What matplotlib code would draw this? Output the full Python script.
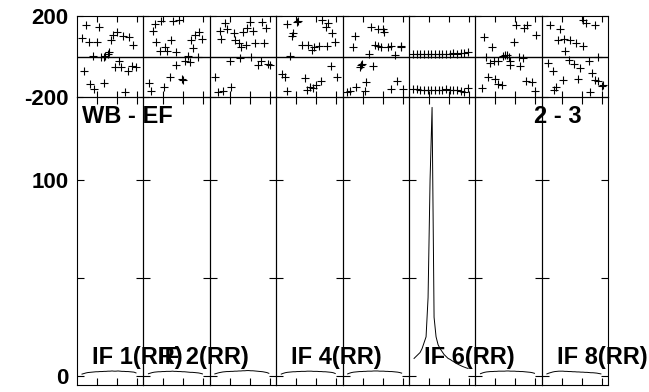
import numpy as np
import matplotlib
matplotlib.use("Agg")
import matplotlib.pyplot as plt

plt.rcParams["font.family"] = ["Liberation Sans", "DejaVu Sans"]
plt.rcParams["font.weight"] = "bold"

# ---- data ----
baseline_label = "WB - EF"
pair_label = "2 - 3"
panel_labels = ["IF 1(RR)", "IF 2(RR)", "", "IF 4(RR)", "", "IF 6(RR)", "", "IF 8(RR)"]

# phase points (channel, degrees) per IF
phase_if1 = [(4.5, 157), (10.8, 147), (2.5, 90), (5.8, 70), (9.8, 70), (17.0, 81),
             (17.8, 108), (19.8, 119), (23.2, 100), (25.8, 98), (27.8, 58), (7.8, 1),
             (12.0, -4), (14.2, 1), (16.2, 21), (13.5, -2), (20.8, -21), (19.2, -50),
             (22.0, -50), (25.3, -73), (27.5, -45), (29.5, -53), (3.7, -73),
             (6.5, -136), (8.7, -160), (13.7, -132), (24.2, -177), (15.3, 12)]
phase_if2 = [(5.7, 160), (9.0, 174), (14.8, 174), (17.8, 180), (4.8, 128), (6.5, 70),
             (14.0, 81), (10.7, 45), (8.2, 29), (11.8, 26), (16.5, 21), (24.0, 81),
             (25.7, 108), (27.8, 119), (29.5, 86), (25.0, 42), (22.3, 4), (27.3, -1),
             (20.7, -21), (23.2, -29), (16.2, -40), (13.2, -100), (19.8, -116),
             (2.8, -132), (4.0, -169), (10.2, -152), (19.5, -112)]
phase_if3 = [(7.8, 164), (20.0, 169), (26.2, 169), (28.3, 141), (5.0, 124), (8.8, 136),
             (12.2, 114), (16.7, 119), (18.8, 141), (21.7, 128), (5.8, 86), (12.8, 81),
             (14.5, 65), (15.8, 49), (18.3, 58), (22.8, 65), (27.2, 65), (10.0, -21),
             (15.0, -7), (20.8, -1), (24.2, -40), (25.5, -24), (29.2, -37), (30.0, -40),
             (2.5, -103), (4.2, -177), (6.7, -172), (10.8, -149)]
phase_if4 = [(5.2, 160), (10.2, 169), (11.0, 174), (8.5, 114), (7.7, 103), (23.0, 180),
             (24.7, 147), (25.7, 164), (28.0, 114), (29.3, 70), (13.0, 58), (16.0, 58),
             (19.0, 49), (18.0, 32), (21.3, 54), (25.2, 54), (6.8, 4), (3.0, -86),
             (4.3, -103), (14.3, -106), (5.3, -172), (15.2, -165), (16.8, -149),
             (19.7, -139), (22.3, -123), (27.3, -45), (30.2, -103), (18.2, -155)]
phase_if5 = [(6.0, 103), (5.2, 45), (14.0, 147), (17.7, 136), (20.2, 136), (20.7, 119),
             (16.0, 58), (17.7, 54), (19.3, 45), (22.7, 49), (24.3, 54), (29.0, 54),
             (29.3, 45), (13.0, 12), (26.3, 9), (9.3, -40), (8.5, -53), (15.2, -45),
             (11.8, -128), (6.8, -149), (3.5, -172), (11.0, -172), (27.3, -123),
             (24.3, -160), (30.2, -160), (2.3, -175), (9.8, -38)]
phase_if6 = [(2.0, 10), (3.8, 10), (5.7, 11), (7.5, 11), (9.3, 11), (11.2, 11),
             (13.0, 12), (14.8, 12), (16.7, 12), (18.5, 13), (20.3, 13), (22.2, 15),
             (24.0, 14), (25.8, 16), (27.7, 18), (29.5, 20),
             (2.0, -162), (3.8, -162), (5.7, -163), (7.5, -163), (9.3, -163),
             (11.2, -163), (13.0, -163), (14.8, -163), (16.7, -163), (18.5, -162),
             (20.3, -163), (22.2, -164), (24.0, -166), (25.8, -170), (27.7, -174),
             (29.5, -158)]
phase_if7 = [(20.3, 157), (24.2, 141), (25.8, 157), (30.3, 108), (4.5, 95), (8.2, 49),
             (19.5, 70), (5.3, -1), (7.5, -34), (9.5, -24), (11.5, -21), (13.7, 4),
             (15.8, 9), (17.0, -1), (17.5, -40), (22.0, -4), (23.7, -7), (22.5, -45),
             (6.2, -103), (9.8, -111), (11.2, -136), (13.2, -139), (3.2, -155),
             (25.3, -123), (28.2, -128), (29.8, -172), (14.8, 6), (17.2, -20)]
phase_if8 = [(4.3, 157), (9.3, 136), (20.5, 180), (22.2, 164), (26.7, 157), (8.3, 81),
             (11.3, 86), (14.3, 81), (17.2, 65), (20.5, 54), (11.7, 26), (13.8, -17),
             (16.3, -37), (19.3, -57), (23.8, -21), (28.3, -1), (3.3, -34), (5.5, -70),
             (18.0, -111), (25.0, -83), (26.7, -116), (28.3, -119), (30.5, -139),
             (10.5, -116), (7.2, -152), (6.3, -165), (24.2, -177), (30.0, -144)]

# amplitude per channel per IF
amp_chan = np.arange(2.5, 30.0, 1.0)
amp_if1 = [1.0, 1.3, 1.6, 1.8, 1.9, 2.0, 2.1, 2.2, 2.2, 2.3, 2.3, 2.4, 2.4, 2.5,
           2.5, 2.6, 2.5, 2.5, 2.6, 2.5, 2.4, 2.4, 2.3, 2.3, 2.2, 2.1, 2.0, 1.6]
amp_if2 = [1.2, 1.5, 1.8, 2.0, 2.1, 2.2, 2.2, 2.3, 2.3, 2.4, 2.4, 2.4, 2.5, 2.4,
           2.4, 2.3, 2.3, 2.2, 2.2, 2.1, 2.0, 1.9, 1.9, 1.8, 1.7, 1.6, 1.4, 1.1]
amp_if3 = [1.1, 1.4, 1.7, 1.9, 2.1, 2.2, 2.3, 2.3, 2.4, 2.4, 2.5, 2.5, 2.6, 2.6,
           2.7, 2.7, 2.8, 2.8, 2.7, 2.7, 2.6, 2.5, 2.4, 2.3, 2.2, 2.0, 1.8, 1.4]
amp_if4 = [1.0, 1.4, 1.7, 1.9, 2.0, 2.1, 2.2, 2.2, 2.3, 2.3, 2.4, 2.4, 2.4, 2.5,
           2.5, 2.5, 2.4, 2.4, 2.4, 2.3, 2.3, 2.2, 2.2, 2.1, 2.0, 1.9, 1.7, 1.3]
amp_if5 = [1.1, 1.5, 1.8, 2.0, 2.1, 2.2, 2.3, 2.3, 2.4, 2.4, 2.5, 2.5, 2.5, 2.6,
           2.6, 2.6, 2.5, 2.5, 2.5, 2.4, 2.4, 2.3, 2.3, 2.2, 2.1, 2.0, 1.8, 1.5]
amp_if6 = [9, 10, 11, 12, 14, 17, 20, 40, 100, 137, 30, 20, 16, 14,
           12.5, 11, 10, 9, 8.5, 7.8, 7.2, 6.5, 6.0, 5.5, 5.0, 4.6, 4.2, 3.9]
amp_if7 = [1.2, 1.6, 1.9, 2.1, 2.2, 2.3, 2.3, 2.4, 2.4, 2.5, 2.5, 2.5, 2.5, 2.6,
           2.6, 2.5, 2.5, 2.5, 2.4, 2.4, 2.3, 2.3, 2.2, 2.1, 2.0, 1.9, 1.7, 1.4]
amp_if8 = [1.1, 1.5, 1.8, 2.1, 2.3, 2.4, 2.5, 2.5, 2.5, 2.4, 2.4, 2.3, 2.3, 2.2,
           2.2, 2.1, 2.1, 2.0, 2.0, 1.9, 1.9, 1.8, 1.7, 1.7, 1.6, 1.5, 1.3, 1.1]

phases = [phase_if1, phase_if2, phase_if3, phase_if4,
          phase_if5, phase_if6, phase_if7, phase_if8]
amps = [amp_if1, amp_if2, amp_if3, amp_if4, amp_if5, amp_if6, amp_if7, amp_if8]

# ---- layout (pixels of a 649x392 canvas) ----
W, H = 649, 392
left, right = 77, 608.3
top, mid, bottom = 16, 97, 384.5
pw = (right - left) / 8
lw = 0.8

fig = plt.figure(figsize=(W / 100, H / 100), dpi=100)

for i in range(8):
    x0 = (left + i * pw) / W
    axp = fig.add_axes([x0, 1 - mid / H, pw / W, (mid - top) / H])
    axa = fig.add_axes([x0, 1 - bottom / H, pw / W, (bottom - mid) / H])

    pts = np.array(phases[i])
    axp.plot(pts[:, 0], pts[:, 1], "+", color="black", markersize=6,
             markeredgewidth=0.8)
    axp.axhline(0, color="black", lw=1.0)
    axp.set_xlim(0, 33.2)
    axp.set_ylim(-200, 200)
    axp.set_xticks([10, 20, 30])
    axp.set_yticks([-200, 200])
    axp.set_yticklabels(["-200", "200"])
    axp.tick_params(axis="x", direction="in", length=4, width=lw, top=True,
                    labelbottom=False)
    axp.tick_params(axis="y", direction="in", length=4, width=lw, right=True,
                    labelleft=(i == 0), labelsize=16, pad=6)

    axa.plot(amp_chan, amps[i], color="black", lw=0.7)
    axa.set_xlim(0, 33.2)
    axa.set_ylim(-4.3, 142.3)
    axa.set_xticks([10, 20, 30])
    axa.set_yticks([0, 50, 100])
    axa.set_yticklabels(["0", "", "100"])
    axa.tick_params(direction="in", length=5, width=lw, top=True, right=True,
                    labelbottom=False, labelleft=(i == 0), labelsize=16, pad=6)

    for ax in (axp, axa):
        ax.patch.set_visible(False)
        for s in ax.spines.values():
            s.set_linewidth(lw)
        for lab in ax.get_yticklabels():
            lab.set_fontweight("bold")

    if panel_labels[i]:
        fig.text((left + i * pw + 15) / W, 1 - 364 / H, panel_labels[i],
                 fontsize=17, fontweight="bold", va="baseline", ha="left",
                 zorder=5)

fig.text(82 / W, 1 - 123 / H, baseline_label, fontsize=17, fontweight="bold",
         va="baseline", ha="left", zorder=5)
fig.text(582 / W, 1 - 123 / H, pair_label, fontsize=17, fontweight="bold",
         va="baseline", ha="right", zorder=5)

fig.savefig("out.png", dpi=100)
